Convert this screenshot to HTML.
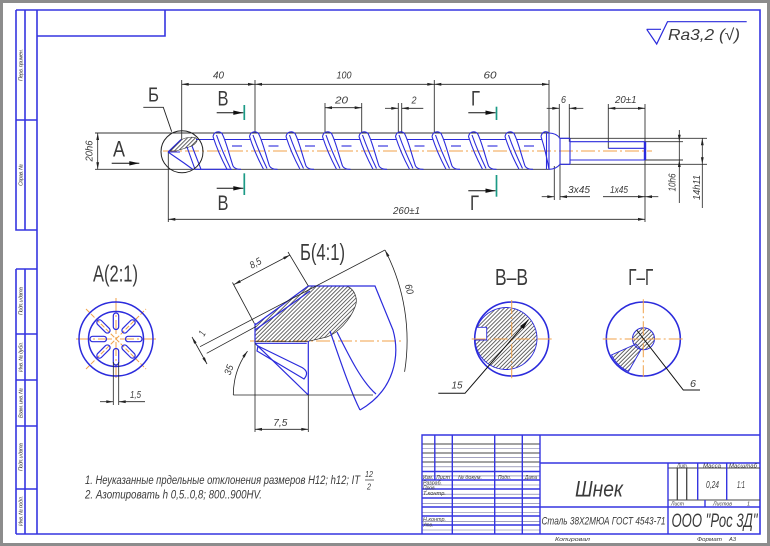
<!DOCTYPE html>
<html><head><meta charset="utf-8">
<style>
html,body{margin:0;padding:0;background:#fff;}
svg{display:block;}
text{font-family:"Liberation Sans","DejaVu Sans",sans-serif;fill:#3a3a3a;}
.i{font-style:italic;}
</style></head><body>
<svg width="770" height="546" viewBox="0 0 770 546" xmlns="http://www.w3.org/2000/svg">
<defs>
<marker id="a" markerUnits="userSpaceOnUse" markerWidth="10" markerHeight="6" refX="0" refY="0" orient="auto-start-reverse" style="overflow:visible"><path d="M0,0 L-7,-1.4 L-7,1.4Z" fill="#222"/></marker>
<marker id="b" markerUnits="userSpaceOnUse" markerWidth="12" markerHeight="6" refX="0" refY="0" orient="auto-start-reverse" style="overflow:visible"><path d="M0,0 L-10,-2.2 L-10,2.2Z" fill="#111"/></marker>
<pattern id="h" patternUnits="userSpaceOnUse" width="2.8" height="2.8" patternTransform="rotate(45)"><line x1="0.5" y1="0" x2="0.5" y2="2.8" stroke="#444" stroke-width="0.8"/></pattern>
<g id="fl" fill="none" stroke="#2b2bdc" stroke-width="1.1">
<path d="M-5,136.5 C-4,131.5 1,130.5 4,133.5 C8,141 11,154 15,166 Q17,169.5 23,169.3"/>
<path d="M-5,136.5 C-2,146 3,158 9,169.3"/>
<path d="M-1.5,135 C2,145 7,157 12.5,168.5"/>
<path d="M7,139.5 H32"/>
<path d="M14,146 H24"/>
</g>
</defs>

<!-- page border -->
<rect x="0" y="0" width="770" height="546" fill="#8c8c8c"/>
<rect x="3" y="3" width="764" height="540" fill="#fff"/>

<!-- frame -->
<g fill="none" stroke="#3535e0" stroke-width="1.6">
<path d="M16,10 H760 V534 H16"/>
<path d="M37,10 V534"/>
<path d="M16,10 V230 H37 M25,10 V230 M16,120 H37"/>
<path d="M16,269 H37 M16,269 V534 M25,269 V534 M16,334 H37 M16,380 H37 M16,426 H37 M16,489 H37"/>
<path d="M37,36 H165 V10"/>
</g>
<g class="i" font-size="5.5">
<text transform="translate(22.5,65) rotate(-90)" text-anchor="middle" textLength="32">Перв. примен.</text>
<text transform="translate(22.5,175) rotate(-90)" text-anchor="middle" textLength="22">Справ. №</text>
<text transform="translate(22.5,301) rotate(-90)" text-anchor="middle" textLength="28">Подп. и дата</text>
<text transform="translate(22.5,357) rotate(-90)" text-anchor="middle" textLength="30">Инв. № дубл.</text>
<text transform="translate(22.5,403) rotate(-90)" text-anchor="middle" textLength="30">Взам. инв. №</text>
<text transform="translate(22.5,457) rotate(-90)" text-anchor="middle" textLength="28">Подп. и дата</text>
<text transform="translate(22.5,511) rotate(-90)" text-anchor="middle" textLength="30">Инв. № подл.</text>
</g>

<!-- roughness -->
<g fill="none" stroke="#2b2bdc" stroke-width="1.2">
<path d="M646.7,29.3 H661 M646.7,29.3 L656.7,44 L667.5,21.7 H746.7"/>
</g>
<text x="668" y="40" class="i" font-size="16" textLength="72" lengthAdjust="spacingAndGlyphs">Ra3,2 (√)</text>

<!-- ========== MAIN VIEW ========== -->
<!-- contour / extension lines -->
<g stroke="#333" stroke-width="0.9" fill="none">
<path d="M95,133 H549 M95,169.3 H549"/>
<path d="M181.7,80 V140 M255,80 V133 M434.3,80 V133 M549,80 V133"/>
<path d="M325,103 V133 M361.7,103 V133 M398.3,103 V133 M401.7,103 V133"/>
<path d="M559.3,104 V138.3 M569.3,104 V141.7 M608.3,104 V148.3 M645,104 V148"/>
<path d="M560,138.3 H707 M560,164.3 H707 M645,141.7 H683 M645,160 H683"/>
<path d="M168.3,152 V222 M645,160 V222"/>
<path d="M554.3,166 V200 M560,165 V200"/>
</g>
<!-- dimension lines -->
<g stroke="#222" stroke-width="0.8" fill="none">
<line x1="181.7" y1="84.3" x2="255" y2="84.3" marker-start="url(#a)" marker-end="url(#a)"/>
<line x1="255" y1="84.3" x2="434.3" y2="84.3" marker-start="url(#a)" marker-end="url(#a)"/>
<line x1="434.3" y1="84.3" x2="549" y2="84.3" marker-start="url(#a)" marker-end="url(#a)"/>
<line x1="325" y1="107.7" x2="361.7" y2="107.7" marker-start="url(#a)" marker-end="url(#a)"/>
<line x1="385" y1="108.3" x2="398.3" y2="108.3" marker-end="url(#a)"/>
<line x1="423.3" y1="108.3" x2="401.7" y2="108.3" marker-end="url(#a)"/>
<line x1="546.7" y1="108.3" x2="559.3" y2="108.3" marker-end="url(#a)"/>
<line x1="583.3" y1="108.3" x2="569.3" y2="108.3" marker-end="url(#a)"/>
<line x1="608.3" y1="108.3" x2="645" y2="108.3" marker-start="url(#a)" marker-end="url(#a)"/>
<line x1="168.3" y1="219.3" x2="645" y2="219.3" marker-start="url(#a)" marker-end="url(#a)"/>
<line x1="97.7" y1="133" x2="97.7" y2="169.3" marker-start="url(#a)" marker-end="url(#a)"/>
<line x1="541.7" y1="196.7" x2="554.3" y2="196.7" marker-end="url(#a)"/>
<line x1="590" y1="196.7" x2="560" y2="196.7" marker-end="url(#a)"/>
<line x1="603" y1="196.7" x2="645" y2="196.7" marker-end="url(#a)"/>
<line x1="658.3" y1="196.7" x2="645" y2="196.7" marker-end="url(#a)"/>
<line x1="679.3" y1="130" x2="679.3" y2="141.7" marker-end="url(#a)"/>
<line x1="679.3" y1="203" x2="679.3" y2="160" marker-end="url(#a)"/>
<line x1="679.3" y1="141.7" x2="679.3" y2="160"/>
<line x1="702.3" y1="138.3" x2="702.3" y2="164.3" marker-start="url(#a)" marker-end="url(#a)"/>
<line x1="702.3" y1="164.3" x2="702.3" y2="208"/>
</g>

<!-- center line -->
<line x1="163" y1="151" x2="652" y2="151" stroke="#f0a24a" stroke-width="1.1" stroke-dasharray="14,3,2,3"/>

<!-- tip -->
<path d="M170,151 L181,140 C186,137 195,136 197,139 C198,142 193,146 189,147 L176,151 Z" fill="url(#h)" stroke="#333" stroke-width="0.6"/>
<g fill="none" stroke="#2b2bdc" stroke-width="1.1">
<path d="M168,152 L181,139.5 M168,152 L184,163 L193,169.5 M168,152 H180"/>
<path d="M187,147 L195,169.3 M192,146 L201,169.3 M196,139.5 H214 M195,169.3 H232"/>
</g>
<!-- flights -->
<use href="#fl" x="218"/>
<use href="#fl" x="254.5"/>
<use href="#fl" x="291"/>
<use href="#fl" x="327.5"/>
<use href="#fl" x="364"/>
<use href="#fl" x="400.5"/>
<use href="#fl" x="437"/>
<use href="#fl" x="473.5"/>
<use href="#fl" x="510"/>
<g fill="none" stroke="#2b2bdc" stroke-width="1.1">
<path d="M541,136.5 C542,131.5 546,130.5 549,133 M541,136.5 C544,146 547,158 549,169.3"/>
<path d="M549,133 V169.3 M546.5,133 V169.3"/>
<path d="M549,133 Q556,133 560,138.3 M549,169.3 Q556,169.3 560,164.3 M560,138.3 V164.3 M560,138.3 H570 M560,164.3 H570 M570,138.3 V164.3"/>
<path d="M570,141.7 H645 M570,160 H645 M608.3,148.3 H645"/>
</g>
<line x1="645" y1="141.7" x2="645" y2="160" stroke="#2b2bdc" stroke-width="2.4"/>

<!-- detail circle Б -->
<circle cx="182" cy="151.7" r="21" fill="none" stroke="#222" stroke-width="1"/>
<path d="M171.7,131.7 L163.3,107.3 H143.3" fill="none" stroke="#222" stroke-width="0.9"/>
<text x="148" y="101.7" font-size="20" textLength="11" lengthAdjust="spacingAndGlyphs">Б</text>
<!-- view A arrow -->
<text x="113" y="156.7" font-size="22" textLength="12" lengthAdjust="spacingAndGlyphs">А</text>
<line x1="111.7" y1="163.3" x2="139.3" y2="163.3" stroke="#111" stroke-width="1" marker-end="url(#b)"/>
<!-- section markers -->
<g stroke="#111" stroke-width="1">
<line x1="216.7" y1="112.7" x2="243.3" y2="112.7" marker-end="url(#b)"/>
<line x1="216.7" y1="188.3" x2="243.3" y2="188.3" marker-end="url(#b)"/>
<line x1="468.3" y1="112.7" x2="495.5" y2="112.7" marker-end="url(#b)"/>
<line x1="468.3" y1="190.7" x2="495.5" y2="190.7" marker-end="url(#b)"/>
</g>
<g stroke="#1c9a86" stroke-width="1.7">
<line x1="244.3" y1="105" x2="244.3" y2="120"/>
<line x1="244.3" y1="173.3" x2="244.3" y2="195"/>
<line x1="496.5" y1="106.7" x2="496.5" y2="120"/>
<line x1="496.5" y1="175" x2="496.5" y2="196.7"/>
</g>
<g font-size="21">
<text x="217.5" y="105.5" textLength="11" lengthAdjust="spacingAndGlyphs">В</text>
<text x="217.5" y="210" textLength="11" lengthAdjust="spacingAndGlyphs">В</text>
<text x="471" y="105.5" textLength="9" lengthAdjust="spacingAndGlyphs">Г</text>
<text x="470" y="210" textLength="9" lengthAdjust="spacingAndGlyphs">Г</text>
</g>

<!-- dim texts -->
<g class="i" font-size="10" lengthAdjust="spacingAndGlyphs">
<text x="213" y="78.5" textLength="11" lengthAdjust="spacingAndGlyphs">40</text>
<text x="336.5" y="78.5" textLength="15" lengthAdjust="spacingAndGlyphs">100</text>
<text x="483.5" y="78.5" textLength="13" lengthAdjust="spacingAndGlyphs">60</text>
<text x="335" y="103.5" textLength="13" lengthAdjust="spacingAndGlyphs">20</text>
<text x="411.5" y="103.5" textLength="5" lengthAdjust="spacingAndGlyphs">2</text>
<text x="561" y="103" textLength="5" lengthAdjust="spacingAndGlyphs">6</text>
<text x="615" y="103" textLength="21.5" lengthAdjust="spacingAndGlyphs">20±1</text>
<text x="393" y="214" textLength="27" lengthAdjust="spacingAndGlyphs">260±1</text>
<text x="568" y="193" textLength="22" lengthAdjust="spacingAndGlyphs">3х45</text>
<text x="610" y="193" textLength="18" lengthAdjust="spacingAndGlyphs">1х45</text>
<text transform="translate(675.3,182.5) rotate(-90)" text-anchor="middle" textLength="18" lengthAdjust="spacingAndGlyphs">10h6</text>
<text transform="translate(699.8,187.5) rotate(-90)" text-anchor="middle" textLength="25" lengthAdjust="spacingAndGlyphs">14h11</text>
<text transform="translate(92.5,151) rotate(-90)" text-anchor="middle" textLength="21" lengthAdjust="spacingAndGlyphs">20h6</text>
</g>

<!-- ========== VIEW A(2:1) ========== -->
<text x="93" y="281.5" font-size="23" textLength="45" lengthAdjust="spacingAndGlyphs">А(2:1)</text>
<g transform="translate(116,339)">
<g stroke="#f0a24a" stroke-width="1" fill="none">
<line x1="-40" y1="0" x2="41" y2="0" stroke-dasharray="14,3,2,3"/>
<line x1="0" y1="-41" x2="0" y2="42" stroke-dasharray="14,3,2,3"/>
<line x1="-30" y1="-30" x2="30" y2="30" stroke-dasharray="5,2"/>
<line x1="-30" y1="30" x2="30" y2="-30" stroke-dasharray="5,2"/>
</g>
<circle r="37" fill="none" stroke="#2b2bdc" stroke-width="1.5"/>
<circle r="27.5" fill="none" stroke="#2b2bdc" stroke-width="1.5"/>
<g fill="none" stroke="#2b2bdc" stroke-width="1.2">
<rect x="9.5" y="-2.7" width="16.5" height="5.4" rx="2.7"/>
<rect x="9.5" y="-2.7" width="16.5" height="5.4" rx="2.7" transform="rotate(45)"/>
<rect x="9.5" y="-2.7" width="16.5" height="5.4" rx="2.7" transform="rotate(90)"/>
<rect x="9.5" y="-2.7" width="16.5" height="5.4" rx="2.7" transform="rotate(135)"/>
<rect x="9.5" y="-2.7" width="16.5" height="5.4" rx="2.7" transform="rotate(180)"/>
<rect x="9.5" y="-2.7" width="16.5" height="5.4" rx="2.7" transform="rotate(225)"/>
<rect x="9.5" y="-2.7" width="16.5" height="5.4" rx="2.7" transform="rotate(270)"/>
<rect x="9.5" y="-2.7" width="16.5" height="5.4" rx="2.7" transform="rotate(315)"/>
</g>
</g>
<g stroke="#222" stroke-width="0.8" fill="none">
<path d="M113.3,362 V405 M118.7,362 V405"/>
<line x1="100" y1="401.7" x2="113.3" y2="401.7" marker-end="url(#a)"/>
<line x1="145" y1="401.7" x2="118.7" y2="401.7" marker-end="url(#a)"/>
</g>
<text x="130" y="398" class="i" font-size="10" textLength="11" lengthAdjust="spacingAndGlyphs">1,5</text>

<!-- ========== VIEW Б(4:1) ========== -->
<text x="300" y="260" font-size="23" textLength="45" lengthAdjust="spacingAndGlyphs">Б(4:1)</text>
<line x1="250" y1="341" x2="402" y2="341" stroke="#f0a24a" stroke-width="1" stroke-dasharray="14,3,2,3"/>
<path d="M255,325 L308.3,286 L346.7,286 C356,290 358,300 355,307 C350,320 338,333 326.7,337 L306.7,341.7 L255,341.7 Z" fill="url(#h)" stroke="#333" stroke-width="0.7"/>
<g fill="none" stroke="#2b2bdc" stroke-width="1.2">
<path d="M255,325 L308.3,286 M255,330 L310,291 M255,323 V343"/>
<path d="M308.3,286 H375 L393,330 C400,355 395,390 360,410"/>
<path d="M330,331 C340,360 350,390 360,410 M337,332 C350,358 362,382 376,394"/>
<path d="M255,343.3 H306.7 M308.3,341 V395 M255,343.3 L308.3,395"/>
<path d="M258,346 L302,367.5 Q310,372 304,379 L257,351 Z"/>
</g>
<g stroke="#222" stroke-width="0.8" fill="none">
<path d="M200,346.7 L385,250 M206.7,353.3 L256,326.5"/>
<path d="M233.3,395 H373"/>
<path d="M255,343 V432 M308.3,395 V432"/>
<line x1="255" y1="429.3" x2="308.3" y2="429.3" marker-start="url(#a)" marker-end="url(#a)"/>
<path d="M254.3,323.3 L232.5,282.5 M308.3,286 L288,252"/>
<line x1="234" y1="284.5" x2="290" y2="255" marker-start="url(#a)" marker-end="url(#a)"/>
<line x1="192" y1="337" x2="207" y2="364" marker-start="url(#a)" marker-end="url(#a)"/>
<path d="M233.3,395 A75,75 0 0 1 247.5,351.1" marker-end="url(#a)"/>
<path d="M385,250 A197,197 0 0 1 404.6,371.8" marker-start="url(#a)"/>
</g>
<g class="i" font-size="10">
<text transform="translate(257,266) rotate(-28)" text-anchor="middle" textLength="12" lengthAdjust="spacingAndGlyphs">8,5</text>
<text x="273.3" y="426" textLength="14" lengthAdjust="spacingAndGlyphs">7,5</text>
<text transform="translate(232,371) rotate(-70)" text-anchor="middle" textLength="10" lengthAdjust="spacingAndGlyphs">35</text>
<text transform="translate(205,335) rotate(-60)" text-anchor="middle" textLength="4" lengthAdjust="spacingAndGlyphs">1</text>
<text transform="translate(406,290) rotate(75)" text-anchor="middle" textLength="10" lengthAdjust="spacingAndGlyphs">60</text>
</g>

<!-- ========== SECTION В-В ========== -->
<text x="495" y="285" font-size="23" textLength="33" lengthAdjust="spacingAndGlyphs">В–В</text>
<path d="M477.1,327.3 A31,31 0 1 1 475.04,340 L486.7,340 L486.7,327.3 Z" fill="url(#h)" stroke="#2b2bdc" stroke-width="0.9"/>
<circle cx="511.7" cy="339" r="37" fill="none" stroke="#2b2bdc" stroke-width="1.6"/>
<g stroke="#f0a24a" stroke-width="1" stroke-dasharray="14,3,2,3">
<line x1="471.7" y1="339" x2="551.7" y2="339"/>
<line x1="511.7" y1="300" x2="511.7" y2="378.3"/>
</g>
<path d="M528.3,320 L465,393.3 H438.3" fill="none" stroke="#111" stroke-width="1" marker-start="url(#b)"/>
<text x="451.5" y="388.5" class="i" font-size="10" textLength="11" lengthAdjust="spacingAndGlyphs">15</text>

<!-- ========== SECTION Г-Г ========== -->
<text x="628.3" y="285" font-size="23" textLength="25" lengthAdjust="spacingAndGlyphs">Г–Г</text>
<path d="M636,344 L611.5,355 A35.5,35.5 0 0 0 628.5,371.5 L641,349.5 Z" fill="url(#h)" stroke="#2b2bdc" stroke-width="0.9"/>
<circle cx="643.5" cy="338.8" r="11" fill="url(#h)" stroke="#2b2bdc" stroke-width="1"/>
<circle cx="643.3" cy="339" r="37" fill="none" stroke="#2b2bdc" stroke-width="1.6"/>
<g stroke="#f0a24a" stroke-width="1" stroke-dasharray="14,3,2,3">
<line x1="602.7" y1="339" x2="683.3" y2="339"/>
<line x1="643.3" y1="299.3" x2="643.3" y2="376.7"/>
</g>
<path d="M636.7,330 L683.3,390 H700" fill="none" stroke="#111" stroke-width="1"/>
<text x="690" y="387" class="i" font-size="10" textLength="6" lengthAdjust="spacingAndGlyphs">6</text>

<!-- ========== NOTES ========== -->
<g class="i" font-size="11.5">
<text x="85" y="484" textLength="275" lengthAdjust="spacingAndGlyphs">1. Неуказанные прдельные отклонения размеров Н12; h12; IT</text>
<text x="365" y="477" font-size="8" textLength="8" lengthAdjust="spacingAndGlyphs">12</text>
<text x="367" y="489.5" font-size="8" textLength="4" lengthAdjust="spacingAndGlyphs">2</text>
<text x="85" y="498.5" textLength="177" lengthAdjust="spacingAndGlyphs">2. Азотировать h 0,5..0,8; 800..900HV.</text>
</g>
<line x1="365" y1="480" x2="374" y2="480" stroke="#333" stroke-width="0.7"/>

<!-- ========== TITLE BLOCK ========== -->
<g fill="none" stroke="#6a6a9a" stroke-width="0.6">
<path d="M422,448.5 H540 M422,457.7 H540 M422,466.8 H540 M422,475.9 H540 M422,485 H540 M422,494.2 H540 M422,503.3 H540 M422,512.5 H540 M422,521.6 H540 M422,530 H540"/>
</g>
<g fill="none" stroke="#444" stroke-width="1">
<path d="M422,444 H540 M422,453 H540 M422,462 H540"/>
<path d="M668,468 H760 M668,500 H760"/>
<path d="M677.3,468 V500 M686.7,468 V500" stroke-width="1.3"/>
</g>
<g fill="none" stroke="#3535e0" stroke-width="1.4">
<path d="M422,534 V435 H760"/>
<path d="M434.8,435 V480 M452.3,435 V534 M494.7,435 V534 M522.3,435 V534 M540,435 V534"/>
<path d="M422,471.5 H540 M422,480 H540 M422,489 H540 M422,498 H540 M422,507 H540 M422,516 H540 M422,525 H540"/>
<path d="M540,463 H760 M540,507 H760 M668,463 V534"/>
<path d="M697.7,463 V500 M726.7,463 V500 M705,500 V507"/>
</g>
<g class="i" font-size="5.5">
<text x="423" y="479" textLength="10" lengthAdjust="spacingAndGlyphs">Изм.</text>
<text x="436" y="479" textLength="14" lengthAdjust="spacingAndGlyphs">Лист</text>
<text x="458" y="479" textLength="24" lengthAdjust="spacingAndGlyphs">№ докум.</text>
<text x="498" y="479" textLength="13" lengthAdjust="spacingAndGlyphs">Подп.</text>
<text x="525" y="479" textLength="12" lengthAdjust="spacingAndGlyphs">Дата</text>
<text x="423" y="484.5" textLength="19" lengthAdjust="spacingAndGlyphs">Разраб.</text>
<text x="423" y="489.5" textLength="13" lengthAdjust="spacingAndGlyphs">Пров.</text>
<text x="423" y="495" textLength="23" lengthAdjust="spacingAndGlyphs">Т.контр.</text>
<text x="423" y="521" textLength="23" lengthAdjust="spacingAndGlyphs">Н.контр.</text>
<text x="423" y="526.5" textLength="10" lengthAdjust="spacingAndGlyphs">Утв.</text>
<text x="677" y="467.3" textLength="11" lengthAdjust="spacingAndGlyphs">Лит.</text>
<text x="703" y="467.3" textLength="18" lengthAdjust="spacingAndGlyphs">Масса</text>
<text x="729" y="467.3" textLength="28" lengthAdjust="spacingAndGlyphs">Масштаб</text>
<text x="671" y="505.5" textLength="13" lengthAdjust="spacingAndGlyphs">Лист</text>
<text x="713" y="505.5" textLength="19" lengthAdjust="spacingAndGlyphs">Листов</text>
<text x="747" y="505.5" textLength="3" lengthAdjust="spacingAndGlyphs">1</text>
<text x="555" y="541" textLength="35" lengthAdjust="spacingAndGlyphs">Копировал</text>
<text x="697" y="541" textLength="25" lengthAdjust="spacingAndGlyphs">Формат</text>
<text x="729" y="541" textLength="7" lengthAdjust="spacingAndGlyphs">А3</text>
</g>
<g class="i">
<text x="575" y="496.5" font-size="22" textLength="48" lengthAdjust="spacingAndGlyphs">Шнек</text>
<text x="706" y="488" font-size="10" textLength="13" lengthAdjust="spacingAndGlyphs">0,24</text>
<text x="737" y="488" font-size="10" textLength="8" lengthAdjust="spacingAndGlyphs">1:1</text>
<text x="541.5" y="524.5" font-size="11" textLength="124" lengthAdjust="spacingAndGlyphs">Сталь 38Х2МЮА ГОСТ 4543-71</text>
<text x="671.5" y="527" font-size="19" textLength="86" lengthAdjust="spacingAndGlyphs">ООО "Рос 3Д"</text>
</g>
</svg>
</body></html>
